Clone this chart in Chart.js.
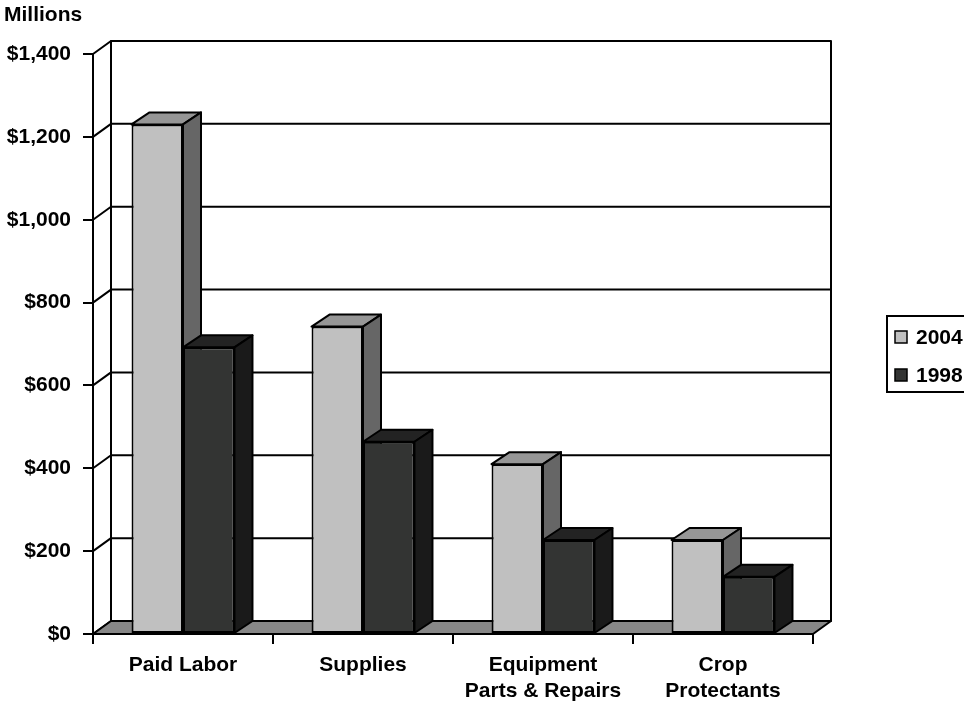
<!DOCTYPE html>
<html>
<head>
    <title>Costs by category</title>
    <meta charset="utf-8" />
    <script src="https://cdn.jsdelivr.net/npm/chart.js"></script>
    <style>
        body { margin: 0; background: #fff; }
    </style>
</head>
<body>
    <canvas id="costChart" width="964" height="706"></canvas>

    <script>
        // data (millions of dollars)
        const categories = [['Paid Labor'], ['Supplies'], ['Equipment', 'Parts & Repairs'], ['Crop', 'Protectants']];
        const seriesNames = ['2004', '1998'];
        const values2004 = [1230, 742, 410, 227];
        const values1998 = [692, 464, 227, 138];
        const yMax = 1400;
        const yStep = 200;
        const unitLabel = 'Millions';

        // colours: front, top, side
        const shades = [
            ['#c0c0c0', '#969696', '#666666'],
            ['#333433', '#232323', '#1a1a1a']
        ];
        const floorColor = '#878787';
        const wallDepth = { dx: 18, dy: -13 };
        const barDepth = { dx: 18, dy: -12 };
        const font = { family: "'Liberation Sans', Arial, sans-serif", size: 21, weight: 'bold' };

        function poly(ctx, pts, fill) {
            ctx.beginPath();
            ctx.moveTo(pts[0][0], pts[0][1]);
            for (let i = 1; i < pts.length; i++) ctx.lineTo(pts[i][0], pts[i][1]);
            ctx.closePath();
            if (fill) { ctx.fillStyle = fill; ctx.fill(); }
            ctx.stroke();
        }

        // walls, floor and the top/side faces of the bars
        const box3d = {
            id: 'box3d',
            beforeDatasetsDraw(chart) {
                const ctx = chart.ctx;
                const a = chart.chartArea;
                const ys = chart.scales.y;
                const dx = wallDepth.dx, dy = wallDepth.dy;
                ctx.save();
                ctx.strokeStyle = '#000';
                ctx.lineWidth = 2;
                ctx.lineJoin = 'round';

                // back wall
                poly(ctx, [[a.left + dx, a.top + dy], [a.right + dx, a.top + dy],
                           [a.right + dx, a.bottom + dy], [a.left + dx, a.bottom + dy]], '#fff');

                // grid lines on left wall and back wall
                ys.ticks.forEach(t => {
                    const y = ys.getPixelForValue(t.value);
                    ctx.beginPath();
                    ctx.moveTo(a.left, y);
                    ctx.lineTo(a.left + dx, y + dy);
                    ctx.lineTo(a.right + dx, y + dy);
                    ctx.stroke();
                });

                // floor
                poly(ctx, [[a.left, a.bottom], [a.right, a.bottom],
                           [a.right + dx, a.bottom + dy], [a.left + dx, a.bottom + dy]], floorColor);

                // bar tops and sides, painted left to right
                const bars = [];
                chart.data.datasets.forEach((ds, di) => {
                    chart.getDatasetMeta(di).data.forEach(el => {
                        const p = el.getProps(['x', 'y', 'base', 'width'], true);
                        bars.push({ p: p, di: di });
                    });
                });
                bars.sort((u, v) => u.p.x - v.p.x);
                const bx = barDepth.dx, by = barDepth.dy;
                bars.forEach(b => {
                    const l = b.p.x - b.p.width / 2, r = b.p.x + b.p.width / 2;
                    const top = b.p.y, base = b.p.base;
                    poly(ctx, [[l, top], [r, top], [r + bx, top + by], [l + bx, top + by]], shades[b.di][1]);
                    poly(ctx, [[r, top], [r + bx, top + by], [r + bx, base + by], [r, base]], shades[b.di][2]);
                });
                ctx.restore();
            },
            afterDraw(chart) {
                const ctx = chart.ctx;
                ctx.save();
                ctx.font = 'bold 21px ' + font.family;
                ctx.fillStyle = '#000';
                ctx.textBaseline = 'alphabetic';
                ctx.fillText(unitLabel, 4, 21);

                // legend box
                ctx.strokeStyle = '#000';
                ctx.lineWidth = 2;
                ctx.strokeRect(887, 316, 90, 76);
                ctx.textBaseline = 'middle';
                chart.data.datasets.forEach((ds, i) => {
                    const y = 337 + i * 38;
                    ctx.fillStyle = ds.backgroundColor;
                    ctx.lineWidth = 1.5;
                    ctx.fillRect(895, y - 6, 12, 12);
                    ctx.strokeRect(895, y - 6, 12, 12);
                    ctx.fillStyle = '#000';
                    ctx.fillText(ds.label, 916, y + 1);
                });
                ctx.restore();
            }
        };

        Chart.defaults.font.family = font.family;
        Chart.defaults.color = '#000';

        const ctx = document.getElementById('costChart').getContext('2d');
        const costChart = new Chart(ctx, {
            type: 'bar',
            data: {
                labels: categories,
                datasets: [{
                    label: seriesNames[0],
                    data: values2004,
                    backgroundColor: shades[0][0]
                }, {
                    label: seriesNames[1],
                    data: values1998,
                    backgroundColor: shades[1][0]
                }]
            },
            options: {
                responsive: false,
                animation: false,
                layout: { padding: { top: 54, right: 151, bottom: 0, left: 0 } },
                datasets: {
                    bar: {
                        categoryPercentage: 0.572,
                        barPercentage: 1.0,
                        borderColor: '#000',
                        borderWidth: 2,
                        borderSkipped: false
                    }
                },
                plugins: {
                    legend: { display: false },
                    tooltip: { enabled: false }
                },
                scales: {
                    x: {
                        ticks: { font: font, padding: 9, maxRotation: 0, autoSkip: false },
                        grid: { drawOnChartArea: false, tickLength: 10, color: '#000', lineWidth: 2, offset: true },
                        border: { color: '#000', width: 2 },
                        afterFit: s => { s.height = 72; }
                    },
                    y: {
                        min: 0,
                        max: yMax,
                        ticks: {
                            stepSize: yStep,
                            font: font,
                            padding: 12,
                            callback: v => '$' + v.toLocaleString('en-US')
                        },
                        grid: { drawOnChartArea: false, tickLength: 10, color: '#000', lineWidth: 2 },
                        border: { color: '#000', width: 2 },
                        afterFit: s => { s.width = 93; }
                    }
                }
            },
            plugins: [box3d]
        });
    </script>
</body>
</html>
